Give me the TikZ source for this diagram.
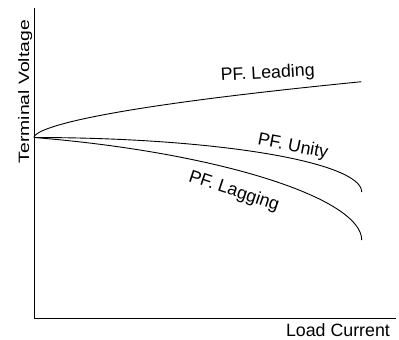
\documentclass[tikz,border=0pt]{standalone}
\usepackage{fontspec}
\setmainfont{Liberation Sans}
\begin{document}
\begin{tikzpicture}[x=1pt,y=-1pt,
  axis/.style={line width=0.9pt},
  curve/.style={line width=0.9pt},
  lbl/.style={font=\fontsize{17.8}{20}\selectfont, inner sep=0pt, anchor=base}]
\useasboundingbox (0,0) rectangle (399,340);
\coordinate (top) at (34,8);
\coordinate (orig) at (34,318.3);
\coordinate (xend) at (396,318.3);
\coordinate (O) at (34,137.5);
\draw[axis] (top) -- (orig) -- (xend);
% leading
\draw[curve] (O) -- plot[domain=0.0005:1, samples=200, smooth] ({34+327.7*\x*\x}, {137.5-55.8*(\x)^1.16});
% unity
\draw[curve] plot[domain=0:90, samples=120, smooth] ({34+327.7*sin(\x)}, {137.5+54.5*(1-cos(\x))});
% lagging
\draw[curve] plot[domain=0:90, samples=120, smooth] ({34+327.7*sin(\x)}, {137.5+26*sin(\x)+76.5*(1-cos(\x))});
\node[lbl, rotate=3.2] (lead) at (268,78.3) {PF. Leading};
\node[lbl, rotate=-11] (unity) at (292,151.5) {PF. Unity};
\node[lbl, rotate=-18.5] (lag) at (232.5,196) {PF. Lagging};
\node[lbl] (xl) at (338,336.5) {Load Current};
\node[inner sep=0pt, anchor=base, rotate=90, font=\fontsize{15}{18}\selectfont] (yl) at (29,91.7) {\scalebox{1.29}[1]{Terminal Voltage}};
\end{tikzpicture}
\end{document}
